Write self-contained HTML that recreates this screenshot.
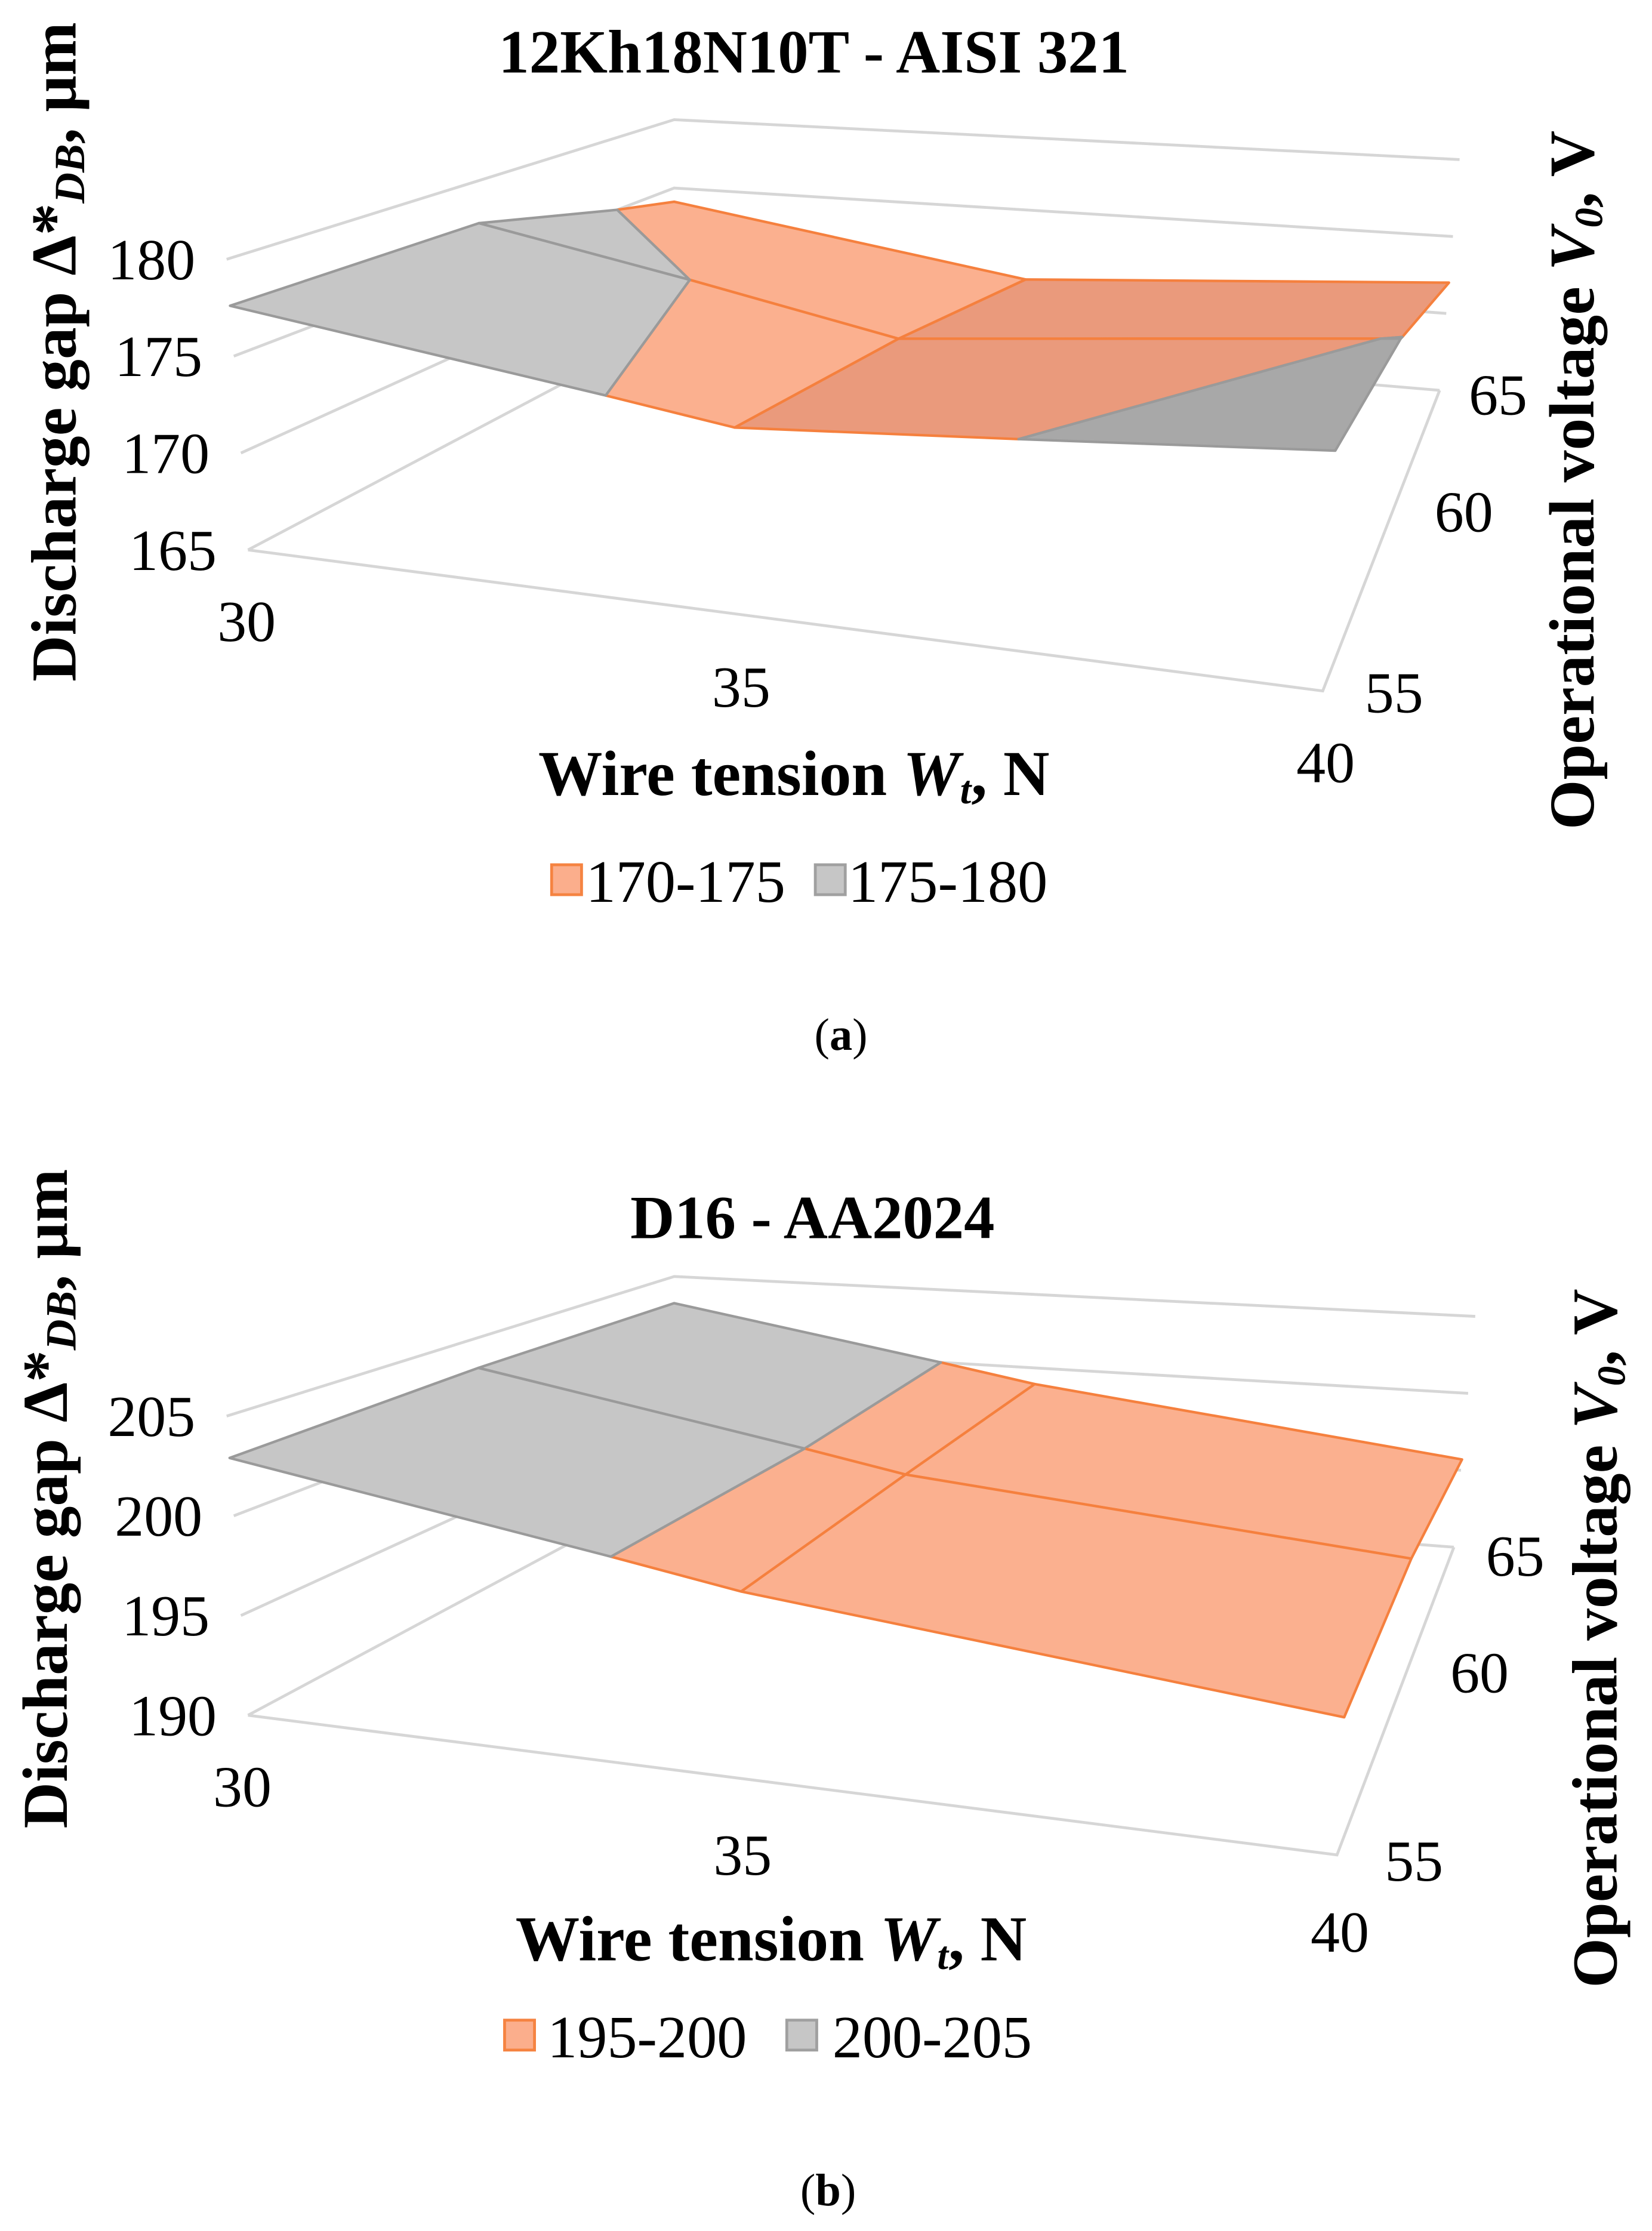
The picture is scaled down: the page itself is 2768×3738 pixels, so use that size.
<!DOCTYPE html>
<html><head><meta charset="utf-8"><style>
html,body{margin:0;padding:0;background:#fff}
svg{display:block}
text{font-family:"Liberation Serif",serif;fill:#000}
.t{font-weight:bold;font-size:43px}
.ax{font-weight:bold;font-size:45px}
.tk{font-size:41px}
.lg{font-size:42px}
</style></head><body>
<svg id="fig" width="2768" height="3738" viewBox="0 0 1159 1566" preserveAspectRatio="none" xmlns="http://www.w3.org/2000/svg">
<g id="chartA">
<text class="t" x="571" y="51" text-anchor="middle">12Kh18N10T - AISI 321</text>
<g id="gridA"></g>
<g id="surfA"></g>
<g id="ticksA"></g>
<text class="tk" x="173" y="450" text-anchor="middle">30</text>
<text class="tk" x="520" y="496" text-anchor="middle">35</text>
<text class="tk" x="930" y="549" text-anchor="middle">40</text>
<text class="tk" x="978" y="500" text-anchor="middle">55</text>
<text class="tk" x="1027" y="373" text-anchor="middle">60</text>
<text class="tk" x="1051" y="291" text-anchor="middle">65</text>
<text class="ax" x="557" y="558" text-anchor="middle">Wire tension <tspan font-style="italic">W</tspan><tspan font-style="italic" font-size="28" dy="6">t</tspan><tspan dy="-6">, N</tspan></text>
<text class="ax" transform="translate(53,247) rotate(-90)" text-anchor="middle">Discharge gap Δ*<tspan font-style="italic" font-size="30" dy="6">DB</tspan><tspan dy="-6">, μm</tspan></text>
<text class="ax" transform="translate(1118,337) rotate(-90)" text-anchor="middle">Operational voltage <tspan font-style="italic">V</tspan><tspan font-style="italic" font-size="28" dy="6">0</tspan><tspan dy="-6">, V</tspan></text>
<rect x="387" y="607" width="21" height="21" fill="#fbae8c" stroke="#f58341" stroke-width="2"/>
<text class="lg" x="411" y="633">170-175</text>
<rect x="572" y="607" width="21" height="21" fill="#c6c6c6" stroke="#a0a0a0" stroke-width="2"/>
<text class="lg" x="595" y="633">175-180</text>
<text x="590" y="737" text-anchor="middle" font-size="32">(<tspan font-weight="bold">a</tspan>)</text>
</g>
<g id="chartB">
<text class="t" x="570" y="869" text-anchor="middle">D16 - AA2024</text>
<g id="gridB"></g>
<g id="surfB"></g>
<g id="ticksB"></g>
<text class="tk" x="170" y="1268" text-anchor="middle">30</text>
<text class="tk" x="521" y="1316" text-anchor="middle">35</text>
<text class="tk" x="940" y="1370" text-anchor="middle">40</text>
<text class="tk" x="992" y="1320" text-anchor="middle">55</text>
<text class="tk" x="1038" y="1188" text-anchor="middle">60</text>
<text class="tk" x="1063" y="1106" text-anchor="middle">65</text>
<text class="ax" x="541" y="1376" text-anchor="middle">Wire tension <tspan font-style="italic">W</tspan><tspan font-style="italic" font-size="28" dy="6">t</tspan><tspan dy="-6">, N</tspan></text>
<text class="ax" transform="translate(47,1052) rotate(-90)" text-anchor="middle">Discharge gap Δ*<tspan font-style="italic" font-size="30" dy="6">DB</tspan><tspan dy="-6">, μm</tspan></text>
<text class="ax" transform="translate(1134,1150) rotate(-90)" text-anchor="middle">Operational voltage <tspan font-style="italic">V</tspan><tspan font-style="italic" font-size="28" dy="6">0</tspan><tspan dy="-6">, V</tspan></text>
<rect x="354" y="1418" width="21" height="21" fill="#fbae8c" stroke="#f58341" stroke-width="2"/>
<text class="lg" x="384" y="1444">195-200</text>
<rect x="552" y="1418" width="21" height="21" fill="#c6c6c6" stroke="#a0a0a0" stroke-width="2"/>
<text class="lg" x="584" y="1444">200-205</text>
<text x="581" y="1548" text-anchor="middle" font-size="32">(<tspan font-weight="bold">b</tspan>)</text>
</g>
</svg>
<script>
const wtCats = [30, 35, 40];
const vCats = [55, 60, 65];
const aRow55 = [177.6, 174.1, 176.0];
const aRow60 = [177.4, 172.6, 175.1];
const aRow65 = [174.0, 170.2, 172.0];
const aTicks = [165, 170, 175, 180];
const aBands = [[170, 175], [175, 180]];
const bRow55 = [202.9, 199.0, 196.3];
const bRow60 = [203.2, 199.0, 196.8];
const bRow65 = [203.1, 198.9, 195.7];
const bTicks = [190, 195, 200, 205];
const bBands = [[195, 200], [200, 205]];

const NS = "http://www.w3.org/2000/svg";
const boxA = {FLb:[174,386],FLt:[159,182],FRb:[928,485],FRt:[940,255],BLb:[473,228],BLt:[473,84],BRb:[1010,274],BRt:[1024,112]};
const boxB = {FLb:[174,1204],FLt:[159,994],FRb:[938,1302],FRt:[950,1072],BLb:[473,1044],BLt:[473,896],BRb:[1020,1086],BRt:[1035,924]};
const bandStyle = [
  {light:"#fbb08f", dark:"#ea9a7c", stroke:"#f5803e"},
  {light:"#c6c6c6", dark:"#a8a8a8", stroke:"#9a9a9a"}
];
// perspective warp of the category axes (fraction of axis depth)
function warpU(f){ return f<=0.5 ? f*0.91 : 0.455+(f-0.5)*1.09; }
function warpW(f){ return f<=0.5 ? f*1.12 : 0.56+(f-0.5)*0.88; }

function bil(a,b,c,d,u,w){
  return [ (1-u)*(1-w)*a[0]+u*(1-w)*b[0]+(1-u)*w*c[0]+u*w*d[0],
           (1-u)*(1-w)*a[1]+u*(1-w)*b[1]+(1-u)*w*c[1]+u*w*d[1] ];
}
function makeProj(box, zmin, zmax){
  return function(wt, v, z){
    const u=warpU((wt-wtCats[0])/(wtCats[2]-wtCats[0]));
    const w=warpW((v-vCats[0])/(vCats[2]-vCats[0]));
    const t=(z-zmin)/(zmax-zmin);
    const b=bil(box.FLb,box.FRb,box.BLb,box.BRb,u,w);
    const tp=bil(box.FLt,box.FRt,box.BLt,box.BRt,u,w);
    return [b[0]+t*(tp[0]-b[0]), b[1]+t*(tp[1]-b[1])];
  };
}
function clip(poly, lim, keepAbove){
  const out=[];
  for(let i=0;i<poly.length;i++){
    const p=poly[i], q=poly[(i+1)%poly.length];
    const pin = keepAbove ? p[2]>=lim : p[2]<=lim;
    const qin = keepAbove ? q[2]>=lim : q[2]<=lim;
    if(pin) out.push(p);
    if(pin!==qin){
      const f=(lim-p[2])/(q[2]-p[2]);
      out.push([p[0]+f*(q[0]-p[0]), p[1]+f*(q[1]-p[1]), lim]);
    }
  }
  return out;
}
function draw(gridId, surfId, ticksId, rows, ticks, bands, box, prefix){
  const zmin=ticks[0], zmax=ticks[ticks.length-1];
  const P=makeProj(box,zmin,zmax);
  const grid=document.getElementById(gridId);
  const fl=[P(wtCats[0],vCats[0],zmin),P(wtCats[2],vCats[0],zmin),P(wtCats[2],vCats[2],zmin)];
  const floor=document.createElementNS(NS,"polyline");
  floor.setAttribute("points",fl.map(p=>p.join(",")).join(" "));
  floor.setAttribute("fill","none");floor.setAttribute("stroke","#d6d6d6");floor.setAttribute("stroke-width","2");
  
  
  grid.appendChild(floor);
  const tg=document.getElementById(ticksId);
  ticks.forEach(z=>{
    const pts=[P(wtCats[0],vCats[0],z),P(wtCats[0],vCats[2],z),P(wtCats[2],vCats[2],z)];
    const pl=document.createElementNS(NS,"polyline");
    pl.setAttribute("points",pts.map(p=>p.join(",")).join(" "));
    pl.setAttribute("fill","none");pl.setAttribute("stroke","#d6d6d6");pl.setAttribute("stroke-width","2");
    
    
    grid.appendChild(pl);
    const tx=document.createElementNS(NS,"text");
    tx.setAttribute("x",pts[0][0]-22);tx.setAttribute("y",pts[0][1]+14);
    tx.setAttribute("text-anchor","end");tx.setAttribute("class","tk");
    tx.textContent=z;
    
    
    tg.appendChild(tx);
  });
  const surf=document.getElementById(surfId);
  for(let j=vCats.length-2;j>=0;j--){
    for(let i=0;i<wtCats.length-1;i++){
      const cell=[[wtCats[i],vCats[j],rows[j][i]],[wtCats[i+1],vCats[j],rows[j][i+1]],
                  [wtCats[i+1],vCats[j+1],rows[j+1][i+1]],[wtCats[i],vCats[j+1],rows[j+1][i]]];
      const slope=(rows[j][i+1]+rows[j+1][i+1])-(rows[j][i]+rows[j+1][i]);
      bands.forEach((bd,k)=>{
        let poly=clip(cell,bd[0],true);
        if(poly.length<3) return;
        poly=clip(poly,bd[1],false);
        if(poly.length<3) return;
        const st=bandStyle[k];
        const pg=document.createElementNS(NS,"polygon");
        pg.setAttribute("points",poly.map(p=>P(p[0],p[1],p[2]).join(",")).join(" "));
        pg.setAttribute("fill",slope>0?st.dark:st.light);
        pg.setAttribute("stroke",st.stroke);pg.setAttribute("stroke-width","1.8");pg.setAttribute("stroke-linejoin","round");
        
        
        surf.appendChild(pg);
      });
    }
  }
}
draw("gridA","surfA","ticksA",[aRow55,aRow60,aRow65],aTicks,aBands,boxA,"chart-a");
draw("gridB","surfB","ticksB",[bRow55,bRow60,bRow65],bTicks,bBands,boxB,"chart-b");
</script>
</body></html>
